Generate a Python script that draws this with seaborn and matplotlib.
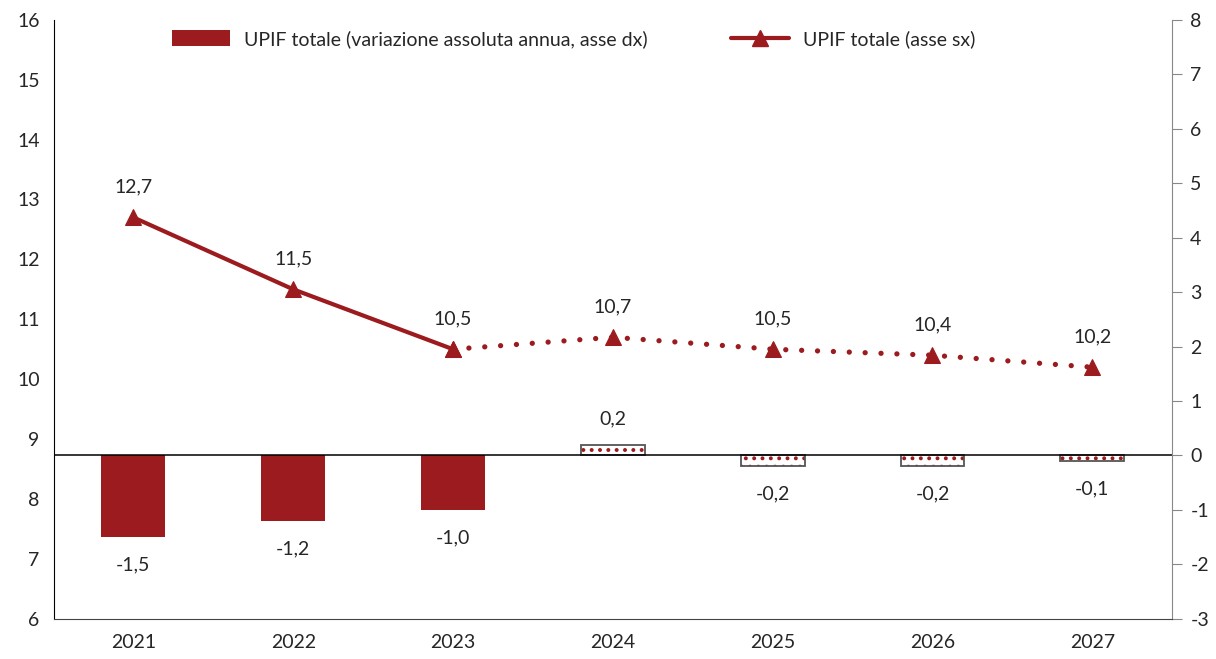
import matplotlib.pyplot as plt
import seaborn as sns
import pandas as pd
import numpy as np
from matplotlib.patches import Patch
from matplotlib.lines import Line2D

years = ['2021', '2022', '2023', '2024', '2025', '2026', '2027']
upif_level = [12.7, 11.5, 10.5, 10.7, 10.5, 10.4, 10.2]       # asse sx
upif_change = [-1.5, -1.2, -1.0, 0.2, -0.2, -0.2, -0.1]       # asse dx
is_forecast = [False, False, False, True, True, True, True]
level_labels = ['12,7', '11,5', '10,5', '10,7', '10,5', '10,4', '10,2']
change_labels = ['-1,5', '-1,2', '-1,0', '0,2', '-0,2', '-0,2', '-0,1']

red = '#9b1b1e'

sns.set_style('white')
plt.rcParams['font.family'] = ['Lato', 'DejaVu Sans']
plt.rcParams['axes.unicode_minus'] = False
plt.rcParams['hatch.linewidth'] = 1.6
fs = 14

df = pd.DataFrame({'year': years, 'level': upif_level, 'change': upif_change,
                   'forecast': is_forecast})
df['pos'] = np.arange(len(df))

fig, ax = plt.subplots(figsize=(12.16, 6.59), dpi=100)
fig.subplots_adjust(left=0.044, right=0.964, top=0.970, bottom=0.061)
ax2 = ax.twinx()

# bars on right axis
sns.barplot(data=df, x='year', y='change', ax=ax2, width=0.4, color=red,
            saturation=1, linewidth=0)
for patch, fc in zip(ax2.patches, df['forecast']):
    if fc:
        patch.set_facecolor('white')
        patch.set_edgecolor(red)
        patch.set_hatch('..')
        patch.set_linewidth(0)
        outline = plt.Rectangle(patch.get_xy(), patch.get_width(), patch.get_height(),
                                fill=False, edgecolor='#555555', linewidth=1.3)
        ax2.add_patch(outline)
ax2.axhline(0, color='black', linewidth=1.1)
for _, r in df.iterrows():
    off = 12 if r['change'] > 0 else -14
    va = 'bottom' if r['change'] > 0 else 'top'
    ax2.annotate(change_labels[r['pos']], (r['pos'], r['change']), xytext=(0, off),
                 textcoords='offset points', ha='center', va=va, fontsize=fs)

# line on left axis
actual = df[~df['forecast']]
fcast = df[df['pos'] >= 2]
sns.lineplot(data=actual, x='pos', y='level', ax=ax, color=red, linewidth=3,
             marker='^', markersize=12, markeredgecolor=red)
sns.lineplot(data=fcast, x='pos', y='level', ax=ax, color=red, linewidth=3.8,
             linestyle=(0, (0.01, 3.0)), dash_capstyle='round',
             marker='^', markersize=12, markeredgecolor=red)
for _, r in df.iterrows():
    ax.annotate(level_labels[r['pos']], (r['pos'], r['level']), xytext=(0, 16),
                textcoords='offset points', ha='center', va='bottom', fontsize=fs)

ax.set_zorder(ax2.get_zorder() + 1)
ax.patch.set_visible(False)

ax.set_xlim(-0.5, 6.5)
ax.set_ylim(6, 16)
ax.set_yticks(range(6, 17))
ax2.set_ylim(-3, 8)
ax2.set_yticks(range(-3, 9))
ax.set_xticks(df['pos'])
ax.set_xticklabels(years)
ax.set_xticks(np.arange(-0.5, 7, 1), minor=True)
ax.tick_params(axis='x', which='major', length=0, pad=11, labelsize=fs)
ax.tick_params(axis='x', which='minor', length=7, direction='out', color='#444444')
ax.tick_params(axis='y', length=0, labelsize=fs, pad=10)
ax2.tick_params(axis='y', length=7, direction='out', color='#888888', labelsize=fs, pad=6)
ax.set_xlabel('')
ax.set_ylabel('')
ax2.set_ylabel('')

for a in (ax, ax2):
    a.spines['top'].set_visible(False)
ax.spines['left'].set_color('black')
ax.spines['bottom'].set_color('#444444')
ax.spines['right'].set_visible(False)
ax2.spines['left'].set_visible(False)
ax2.spines['bottom'].set_visible(False)
ax2.spines['right'].set_color('#888888')

handles = [Patch(facecolor=red, edgecolor='none'),
           Line2D([0], [0], color=red, linewidth=3, marker='^', markersize=11)]
labels = ['UPIF totale (variazione assoluta annua, asse dx)', 'UPIF totale (asse sx)']
ax.legend(handles, labels, loc='upper center', bbox_to_anchor=(0.465, 1.012), ncol=2,
          frameon=False, fontsize=fs, columnspacing=4.3, handlelength=3.0,
          handleheight=0.9, handletextpad=0.7)

fig.savefig('out.png', dpi=100)
